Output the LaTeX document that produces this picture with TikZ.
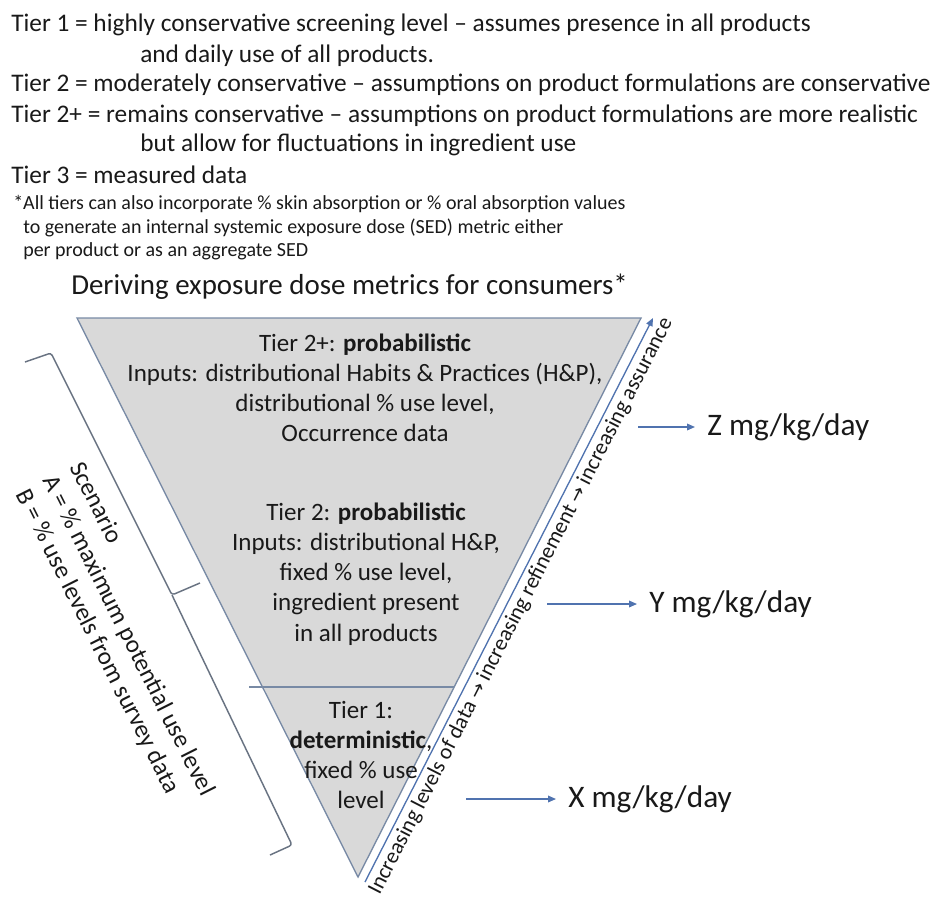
\documentclass[tikz,border=0pt]{standalone}
\usepackage{fontspec}
\setmainfont{Carlito}
\newfontfamily\symfont{DejaVu Sans}
\usetikzlibrary{arrows.meta}
\definecolor{trifill}{RGB}{217,217,217}
\definecolor{triline}{RGB}{120,138,165}
\definecolor{arrc}{RGB}{80,115,175}
\definecolor{brc}{RGB}{105,115,130}
\definecolor{txt}{RGB}{25,25,25}
\tikzset{
  toptext/.style={anchor=west, inner sep=0pt, text=txt, font=\fontsize{19}{22.5}\selectfont},
  foottext/.style={anchor=west, inner sep=0pt, text=txt, font=\fontsize{15}{18}\selectfont},
  titletext/.style={anchor=west, inner sep=0pt, text=txt, font=\fontsize{21.7}{26}\selectfont},
  tiertext/.style={align=center, inner sep=0pt, text=txt, font=\fontsize{18.75}{22.6}\selectfont},
  doselabel/.style={anchor=west, inner sep=0pt, inner xsep=9pt, text=txt, font=\fontsize{23.5}{28}\selectfont},
  outarrow/.style={draw=arrc, line width=1pt, -{Triangle[length=6pt,width=5pt]}},
  bracestyle/.style={draw=brc, line width=1.1pt, rounded corners=2pt},
}
\begin{document}
\begin{tikzpicture}[x=0.75pt,y=-0.75pt]
\useasboundingbox (0,0) rectangle (932,897);
% top explanatory text
\node[toptext] (t1) at (11,25) {Tier 1 = highly conservative screening level – assumes presence in all products};
\node[toptext] (t2) at (140,56) {and daily use of all products.};
\node[toptext] (t3) at (11,85) {Tier 2 = moderately conservative – assumptions on product formulations are conservative};
\node[toptext] (t4) at (11,116) {Tier 2+ = remains conservative – assumptions on product formulations are more realistic};
\node[toptext] (t5) at (140,145) {but allow for fluctuations in ingredient use};
\node[toptext] (t6) at (11,175) {Tier 3 = measured data};
\node[foottext] (f1) at (13,204) {*All tiers can also incorporate \% skin absorption or \% oral absorption values};
\node[foottext] (f2) at (23,228) {to generate an internal systemic exposure dose (SED) metric either};
\node[foottext] (f3) at (23,251) {per product or as an aggregate SED};
\node[titletext] (title) at (71,287) {Deriving exposure dose metrics for consumers*};
% triangle
\fill[trifill] (77,318) -- (641,318) -- (358,877) -- cycle;
\draw[triline, line width=1pt] (77,318) -- (641,318) -- (358,877) -- cycle;
\draw[triline, line width=1pt] (249,687) -- (454,687);
% tier texts
\node[tiertext] (n2p) at (365,388) {Tier 2+: \textbf{probabilistic}\\Inputs: distributional Habits \& Practices (H\&P),\\distributional \% use level,\\Occurrence data};
\node[tiertext] (n2) at (366,574) {Tier 2: \textbf{probabilistic}\\Inputs: distributional H\&P,\\fixed \% use level,\\ingredient present\\in all products};
\node[tiertext] (n1) at (361,755) {Tier 1:\\\textbf{deterministic},\\fixed \% use\\level};
% brace and scenario text
\draw[bracestyle] (25,362) -- (51,353) -- (172,595) -- (200,583);
\draw[bracestyle] (172,595) -- (292,845) -- (270,855);
\node[tiertext, align=left, rotate=-63.3, font=\fontsize{18.75}{22.8}\selectfont] (scen) at (128,636) {Scenario\\A = \% maximum potential use level\\B = \% use levels from survey data};
% diagonal arrow
\coordinate (ds) at (365,882);
\coordinate (de) at (653,318);
\draw[outarrow] (ds) -- node[sloped, anchor=north, inner sep=2.5pt, text=txt, font=\fontsize{16.5}{20}\selectfont] (diag) {Increasing levels of data {\symfont\fontsize{14}{16}\selectfont →} increasing refinement {\symfont\fontsize{14}{16}\selectfont →} increasing assurance} (de);
% outputs
\coordinate (za) at (638,427);
\coordinate (ya) at (547,604);
\coordinate (xa) at (466,799);
\node[doselabel] (zl) at (695,427) {Z mg/kg/day};
\node[doselabel] (yl) at (637,604) {Y mg/kg/day};
\node[doselabel] (xl) at (556,799) {X mg/kg/day};
\draw[outarrow] (za) -- (zl.west);
\draw[outarrow] (ya) -- (yl.west);
\draw[outarrow] (xa) -- (xl.west);
\end{tikzpicture}
\end{document}
